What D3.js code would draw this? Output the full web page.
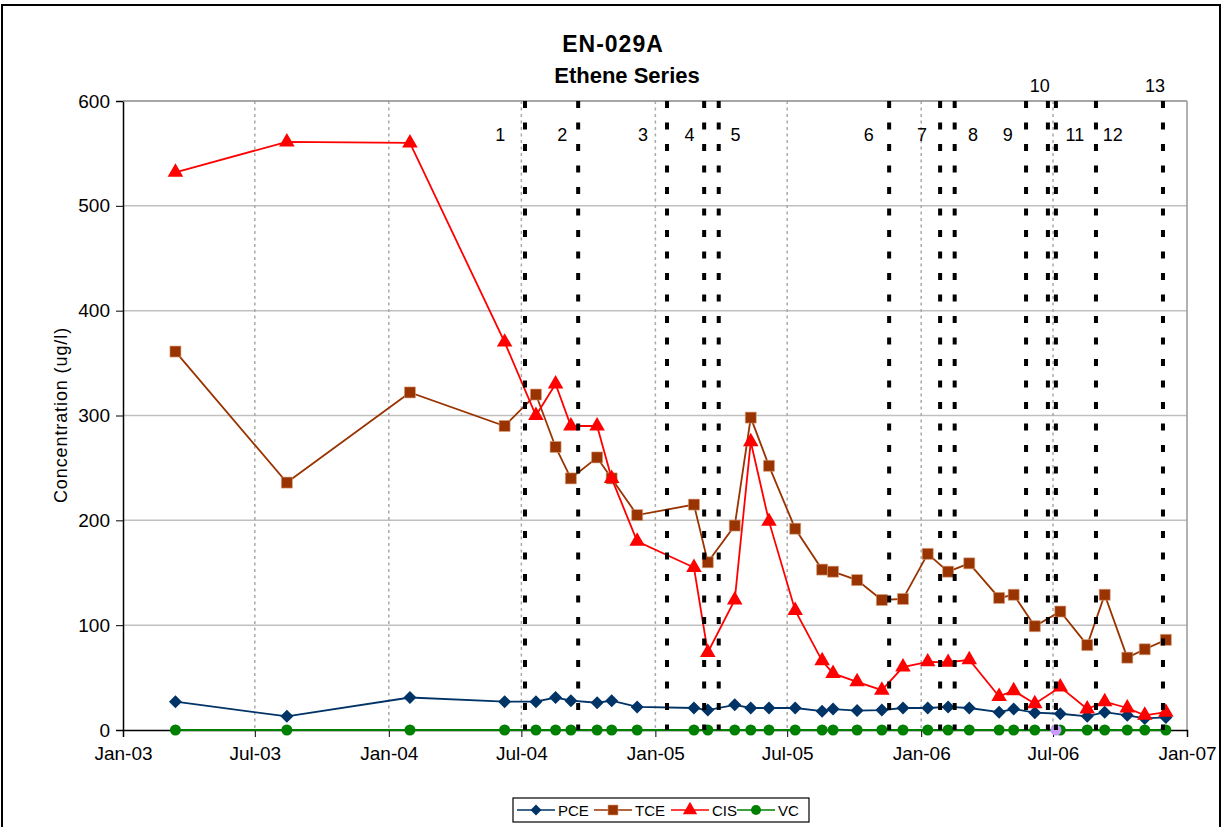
<!DOCTYPE html>
<html><head><meta charset="utf-8">
<script src="https://cdn.jsdelivr.net/npm/d3@7"></script>
<style>
body{margin:0;background:#fff;}
text{font-family:Arial,"Liberation Sans",sans-serif;fill:#000;}
</style>
</head><body>
<svg id="c" width="1225" height="827"></svg>
<script>
// ---------- data ----------
const sampleDates = ["2003-03-14","2003-08-14","2004-01-30","2004-06-08","2004-07-21","2004-08-17","2004-09-07","2004-10-13","2004-11-02","2004-12-07","2005-02-23","2005-03-14","2005-04-20","2005-05-12","2005-06-06","2005-07-12","2005-08-18","2005-09-02","2005-10-05","2005-11-08","2005-12-07","2006-01-10","2006-02-07","2006-03-08","2006-04-18","2006-05-08","2006-06-06","2006-07-11","2006-08-17","2006-09-10","2006-10-11","2006-11-04","2006-12-03"];
const pce = [27,13,31,27,27,31,28,26,28,22,21,19,24,21,21,21,18,20,18.5,19,21,21,22,21,17,20,16.5,15.5,13,17,14,11,12];
const tce = [361,236,322,290,320,270,240,260,240,205,215,160,195,298,252,192,153,151,143,124,125,168,151,159,126,129,99,113,81,129,69,77,86];
const cis = [532,561,560,370,300,330,290,290,240,180,155,74,124,275,199,114,66,54,46,38,60,65,64.5,67,32,37.5,25,41,20,27,21,14,17];
const vc  = [0,0,0,0,0,0,0,0,0,0,0,0,0,0,0,0,0,0,0,0,0,0,0,0,0,0,0,0,0,0,0,0,0];
const vcFlagDate = "2006-07-05";   // highlighted VC sample
const vcFlagValue = 0;

const eventDates = ["2004-07-06","2004-09-17","2005-01-17","2005-03-09","2005-03-29","2005-11-18","2006-01-27","2006-02-16","2006-05-25","2006-06-24","2006-07-05","2006-08-29","2006-11-29"];
const eventLabels = ["1","2","3","4","5","6","7","8","9","10","11","12","13"];
const eventLabelDates = ["2004-06-02","2004-08-26","2004-12-15","2005-02-17","2005-04-21","2005-10-21","2006-01-02","2006-03-13","2006-04-30","2006-06-13","2006-07-31","2006-09-21","2006-11-18"];
const eventLabelRaised = [false,false,false,false,false,false,false,false,false,true,false,false,true];

const yTicks = [0,100,200,300,400,500,600];
const seriesNames = ["PCE","TCE","CIS","VC"];
const titleLines = ["EN-029A","Ethene Series"];
const yTitle = "Concentration (ug/l)";

// ---------- layout ----------
const svg = d3.select("#c");
const L = 123, R = 1187, T = 101, B = 730;
const parse = d3.utcParse("%Y-%m-%d");
const x = d3.scaleUtc().domain([Date.UTC(2003,0,1), Date.UTC(2007,0,1)]).range([L, R]);
const y = d3.scaleLinear().domain([0,600]).range([B, T]);

const colors = {PCE:"#003366", TCE:"#993300", CIS:"#FF0000", VC:"#008000"};
const seriesVals = {PCE:pce, TCE:tce, CIS:cis, VC:vc};

// outer border
svg.append("rect").attr("x",2).attr("y",5).attr("width",1218).attr("height",840)
  .attr("fill","none").attr("stroke","#000").attr("stroke-width",2);

// horizontal gridlines
svg.append("g").selectAll("line").data(yTicks.filter(d=>d>0)).join("line")
  .attr("x1",L).attr("x2",R).attr("y1",d=>y(d)).attr("y2",d=>y(d))
  .attr("stroke","#c0c0c0").attr("stroke-width",1.5);

// vertical dashed gridlines
const xTicks = x.ticks(d3.utcMonth.every(6));
svg.append("g").selectAll("line").data(xTicks.filter(d=>+d>+x.domain()[0] && +d<+x.domain()[1])).join("line")
  .attr("x1",d=>x(d)).attr("x2",d=>x(d)).attr("y1",T).attr("y2",B)
  .attr("stroke","#aaaaaa").attr("stroke-width",1.5).attr("stroke-dasharray","3,3.5");

// plot border right
svg.append("line").attr("x1",R).attr("x2",R).attr("y1",T).attr("y2",B).attr("stroke","#999").attr("stroke-width",1.5);

// axes
const yAxis = svg.append("g").attr("transform",`translate(${L},0)`)
  .call(d3.axisLeft(y).tickValues(yTicks).tickSize(7).tickPadding(6).tickFormat(d3.format("d")));
yAxis.select(".domain").attr("stroke","#000").attr("stroke-width",1.5);
yAxis.selectAll(".tick line").attr("stroke","#000");
yAxis.selectAll("text").style("font-size","19px").style("font-family","Arial, 'Liberation Sans', sans-serif");

const xAxis = svg.append("g").attr("transform",`translate(0,${B})`)
  .call(d3.axisBottom(x).ticks(d3.utcMonth.every(6)).tickSize(7).tickPadding(10).tickFormat(d3.utcFormat("%b-%y")));
xAxis.select(".domain").attr("stroke","#000").attr("stroke-width",1.5);
xAxis.selectAll(".tick line").attr("stroke","#000");
xAxis.selectAll("text").style("font-size","19px").style("font-family","Arial, 'Liberation Sans', sans-serif");

// top border of plot (gray)
svg.append("line").attr("x1",L).attr("x2",R).attr("y1",T).attr("y2",T).attr("stroke","#999").attr("stroke-width",1.5);

// series
const line = d3.line().x(d=>x(d.date)).y(d=>y(d.v));
const dates = sampleDates.map(parse);

function marker(sel, name, size){
  const c = colors[name];
  if(name==="PCE"){
    const h = size/2;
    sel.append("path").attr("d",`M0,${-h}L${h},0L0,${h}L${-h},0Z`).attr("fill",c);
  } else if(name==="TCE"){
    sel.append("path").attr("d",d3.symbol(d3.symbolSquare, size*size)()).attr("fill",c).attr("stroke","#d9a07a").attr("stroke-width",0.6);
  } else if(name==="CIS"){
    sel.append("path").attr("d",d3.symbol(d3.symbolTriangle, size*size*0.62)()).attr("fill",c);
  } else {
    sel.append("circle").attr("r",size/2).attr("fill",c);
  }
}

const mSize = {PCE:13, TCE:11, CIS:13, VC:11};
seriesNames.forEach(name=>{
  const data = seriesVals[name].map((v,i)=>({date:dates[i], v}));
  const g = svg.append("g");
  g.append("path").datum(data).attr("d",line).attr("fill","none")
    .attr("stroke",colors[name]).attr("stroke-width",name==="VC"?2:1.8);
  g.selectAll("g.m").data(data).join("g").attr("class","m")
    .attr("transform",d=>`translate(${x(d.date)},${y(d.v)})`)
    .each(function(){ marker(d3.select(this), name, mSize[name]); });
});

// highlighted VC point
svg.append("circle").attr("cx",x(parse(vcFlagDate))).attr("cy",y(vcFlagValue)).attr("r",5.5).attr("fill","#CC99FF");

// event lines
svg.append("g").selectAll("line").data(eventDates.map(parse)).join("line")
  .attr("x1",d=>x(d)).attr("x2",d=>x(d)).attr("y1",T).attr("y2",B)
  .attr("stroke","#000").attr("stroke-width",4).attr("stroke-dasharray","7,14.5");

// event labels
svg.append("g").selectAll("text").data(eventLabels).join("text")
  .attr("x",(d,i)=>x(parse(eventLabelDates[i])))
  .attr("y",(d,i)=>eventLabelRaised[i] ? T-9 : T+40)
  .attr("text-anchor","middle").style("font-size","18px").text(d=>d);

// titles
svg.append("text").attr("x",613).attr("y",52).attr("text-anchor","middle")
  .style("font-size","23px").style("font-weight","bold").style("letter-spacing","1px").text(titleLines[0]);
svg.append("text").attr("x",627).attr("y",83).attr("text-anchor","middle")
  .style("font-size","22px").style("font-weight","bold").text(titleLines[1]);

// y title
svg.append("text").attr("transform","translate(67,415) rotate(-90)").attr("text-anchor","middle")
  .style("font-size","18px").style("letter-spacing","0.9px").text(yTitle);

// legend
const lg = svg.append("g");
lg.append("rect").attr("x",513).attr("y",798).attr("width",296).attr("height",24)
  .attr("fill","#fff").attr("stroke","#000").attr("stroke-width",1.2);
const legX = [517, 594, 671, 737];
const lSize = {PCE:11, TCE:10, CIS:12, VC:10};
seriesNames.forEach((name,i)=>{
  const g = lg.append("g").attr("transform",`translate(${legX[i]},810)`);
  g.append("line").attr("x1",0).attr("x2",38).attr("stroke",colors[name]).attr("stroke-width",1.7);
  const m = g.append("g").attr("transform","translate(19,0)");
  marker(m, name, lSize[name]);
  g.append("text").attr("x",41).attr("y",5.5).style("font-size","15px").text(name);
});
</script>
</body></html>
